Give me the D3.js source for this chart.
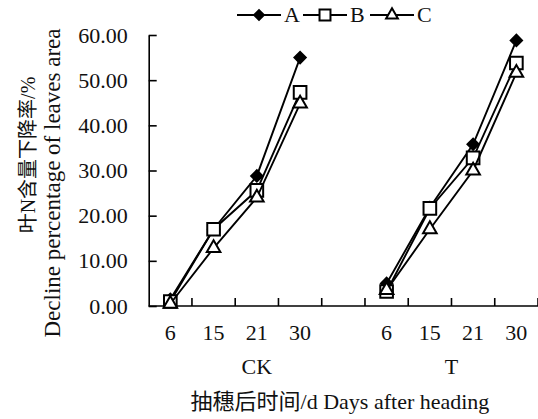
<!DOCTYPE html>
<html>
<head>
<meta charset="utf-8">
<script src="https://cdn.jsdelivr.net/npm/d3@7.9.0/dist/d3.min.js"></script>
<style>
  body { margin: 0; background: #fff; }
  svg { display: block; font-family: "Liberation Serif", "Times New Roman", "Noto Sans CJK SC", serif; }
</style>
</head>
<body>
<svg id="chart" width="538" height="419"></svg>
<script>
// data
const groups = ['CK', 'T'];
const days = ['6', '15', '21', '30'];
const seriesA = [1.5, 17.0, 28.8, 55.0, 5.0, 21.8, 35.8, 58.8];
const seriesB = [1.0, 17.0, 25.6, 47.3, 3.2, 21.6, 32.8, 53.8];
const seriesC = [0.5, 12.8, 24.0, 44.8, 3.5, 17.0, 30.0, 51.6];
const yTicks = [0, 10, 20, 30, 40, 50, 60];

const svg = d3.select('#chart');
const plotLeft = 148.7, plotRight = 538, plotTop = 35, plotBottom = 306;

// 9 slots: 4 days CK, a blank, 4 days T
const keys = [...days.map(d => 'CK-' + d), 'gap', ...days.map(d => 'T-' + d)];
const x = d3.scaleBand().domain(keys).range([plotLeft, plotRight]).padding(0);
const y = d3.scaleLinear().domain([0, 60]).range([plotBottom, plotTop]);
const cx = k => x(k) + x.bandwidth() / 2;

// y axis
const yAxis = d3.axisLeft(y).tickValues(yTicks).tickFormat(d3.format('.2f'))
  .tickSizeInner(-8).tickSizeOuter(0).tickPadding(21);
svg.append('g').attr('transform', `translate(${plotLeft},0)`).call(yAxis)
  .call(g => g.selectAll('path, line').attr('stroke', '#000').attr('stroke-width', 1.6))
  .call(g => g.selectAll('text').attr('font-size', 22).attr('fill', '#111')
    .attr('font-family', '"Liberation Serif", serif'));

// x axis line with ticks between slots
svg.append('line').attr('x1', plotLeft).attr('x2', plotRight).attr('y1', plotBottom).attr('y2', plotBottom)
  .attr('stroke', '#000').attr('stroke-width', 1.6);
svg.append('g').selectAll('line').data(keys).join('line')
  .attr('x1', k => x(k) + x.bandwidth()).attr('x2', k => x(k) + x.bandwidth())
  .attr('y1', plotBottom).attr('y2', plotBottom - 8)
  .attr('stroke', '#000').attr('stroke-width', 1.6);

// day labels
groups.forEach(g => {
  svg.append('g').selectAll('text').data(days).join('text')
    .attr('x', d => cx(g + '-' + d)).attr('y', 340)
    .attr('text-anchor', 'middle').attr('font-size', 22).attr('fill', '#111')
    .text(d => d);
});
svg.append('text').attr('x', cx('CK-21')).attr('y', 374).attr('text-anchor', 'middle')
  .attr('font-size', 22).attr('fill', '#111').text('CK');
svg.append('text').attr('x', (cx('T-15') + cx('T-21')) / 2).attr('y', 374).attr('text-anchor', 'middle')
  .attr('font-size', 22).attr('fill', '#111').text('T');
svg.append('text').attr('x', 340).attr('y', 409).attr('text-anchor', 'middle')
  .attr('font-size', 22).attr('fill', '#111').text('抽穗后时间/d Days after heading');

// y title
svg.append('text').attr('transform', 'translate(35,155) rotate(-90)').attr('text-anchor', 'middle')
  .attr('font-size', 20).attr('fill', '#111').text('叶N含量下降率/%');
svg.append('text').attr('transform', 'translate(60,183) rotate(-90)').attr('text-anchor', 'middle')
  .attr('font-size', 23).attr('fill', '#111').text('Decline percentage of leaves area');

// markers: diamond is a square turned 45 degrees
const symbols = {
  A: { type: d3.symbolSquare, size: 64, fill: '#000', rotate: 45 },
  B: { type: d3.symbolSquare, size: 160, fill: '#fff', rotate: 0 },
  C: { type: d3.symbolTriangle, size: 80, fill: '#fff', rotate: 0 }
};
const series = [
  { name: 'A', values: seriesA },
  { name: 'B', values: seriesB },
  { name: 'C', values: seriesC }
];
const line = d3.line().x(d => cx(d.key)).y(d => y(d.v));
const ptKeys = keys.filter(k => k !== 'gap');

// each series: line then markers, A first so B sits over it
series.forEach(s => {
  const pts = s.values.map((v, i) => ({ key: ptKeys[i], v }));
  const sym = symbols[s.name];
  groups.forEach(g => {
    svg.append('path').datum(pts.filter(p => p.key.startsWith(g + '-')))
      .attr('d', line).attr('fill', 'none').attr('stroke', '#000').attr('stroke-width', 1.9);
  });
  svg.append('g').selectAll('path').data(pts).join('path')
    .attr('transform', d => `translate(${cx(d.key)},${y(d.v)}) rotate(${sym.rotate})`)
    .attr('d', d3.symbol(sym.type, sym.size))
    .attr('fill', sym.fill).attr('stroke', '#000').attr('stroke-width', 2);
});

// legend
const legendX = [237, 303, 370];
series.forEach((s, i) => {
  const g = svg.append('g').attr('transform', `translate(${legendX[i]},15)`);
  g.append('line').attr('x1', 0).attr('x2', 44).attr('stroke', '#000').attr('stroke-width', 2);
  const sym = symbols[s.name];
  g.append('path').attr('transform', `translate(22,0) rotate(${sym.rotate})`)
    .attr('d', d3.symbol(sym.type, sym.size * 0.75))
    .attr('fill', sym.fill).attr('stroke', '#000').attr('stroke-width', 2);
  g.append('text').attr('x', 47).attr('y', 7).attr('font-size', 22).attr('fill', '#111').text(s.name);
});
</script>
</body>
</html>
